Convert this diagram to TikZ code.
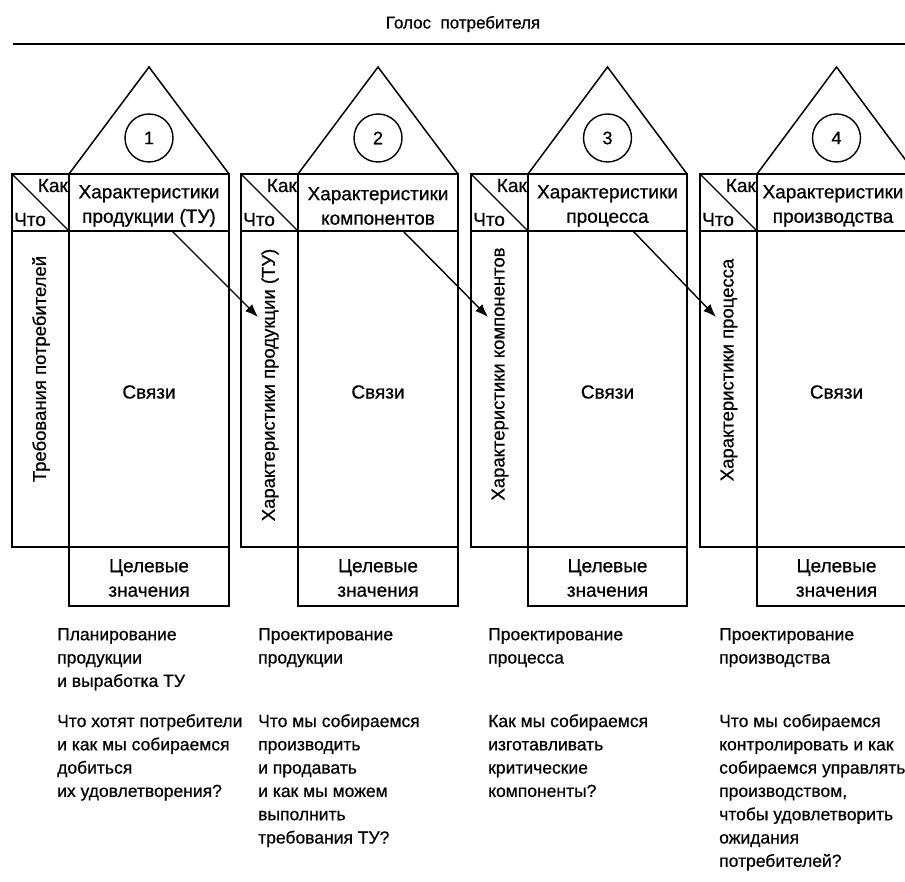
\documentclass[tikz,border=0pt]{standalone}
\usepackage{fontspec}
\setmainfont{Liberation Sans}[FakeBold=0.6]
\usetikzlibrary{arrows.meta,calc}
\begin{document}
\begin{tikzpicture}[x=1pt,y=-1pt,
  frame/.style={draw=black,line width=1.8pt},
  roof/.style={draw=black,line width=1.5pt,line join=miter},
  lbl/.style={font=\fontsize{19}{24.5}\selectfont,inner sep=0pt},
  sidelbl/.style={font=\fontsize{18.5}{24}\selectfont,inner sep=0pt,rotate=90},
  note/.style={font=\fontsize{17.5}{23.3}\selectfont,inner sep=0pt,align=left,anchor=north west},
  numcirc/.style={draw=black,circle,line width=1.4pt,minimum size=48pt,inner sep=0pt,font=\fontsize{18}{20}\selectfont},
  link/.style={draw=black,line width=1.4pt,-{Latex[length=13pt,width=10pt]}}]
\useasboundingbox (0,0) rectangle (905,882);
\clip (0,0) rectangle (905,882);

% heading and the line under it
\node[lbl,font=\fontsize{17}{20}\selectfont] (title) at (463,24) {Голос\ \ потребителя};
\draw[line width=1.8pt] (13,44) -- (905,44);

% the four houses: narrow "what" column, header, body, target row, roof
\foreach \i/\X/\W/\sy/\hx/\hd/\vt in {
  1/12/160/369/0/{Характеристики\\продукции (ТУ)}/{Требования потребителей},
  2/241/160/385/0/{Характеристики\\компонентов}/{Характеристики продукции (ТУ)},
  3/471/159/374/0/{Характеристики\\процесса}/{Характеристики компонентов},
  4/700/159/370/-3.5/{Характеристики\\производства}/{Характеристики процесса}}{
  % roof
  \draw[roof] (\X+57,174) -- (\X+57+\W/2,67) -- (\X+57+\W,174);
  % narrow column with the diagonal corner cell
  \draw[frame] (\X,174) rectangle (\X+57,547);
  \draw[frame] (\X,231) -- (\X+57,231);
  \draw[line width=1.3pt] (\X,174) -- (\X+57,231);
  % main column
  \draw[frame] (\X+57,174) rectangle (\X+57+\W,606);
  \draw[frame] (\X+57,231) -- (\X+57+\W,231);
  \draw[frame] (\X+57,547) -- (\X+57+\W,547);
  % texts
  \node[numcirc] (num\i) at (\X+57+\W/2,138) {\i};
  \node[lbl,anchor=base east] (how\i) at (\X+56,192) {Как};
  \node[lbl,anchor=base west] (what\i) at (\X+2,226) {Что};
  \node[lbl,align=center] (head\i) at (\X+57+\W/2+\hx,206) {\hd};
  \node[sidelbl] (side\i) at (\X+29,\sy) {\vt};
  \node[lbl] (rel\i) at (\X+57+\W/2,392) {Связи};
  \node[lbl,align=center] (goal\i) at (\X+57+\W/2,578) {Целевые\\значения};
}

% links from each header to the next house's "what" column
\coordinate (s1) at (172,231);  \coordinate (e1) at (258,317);
\coordinate (s2) at (403,231);  \coordinate (e2) at (488,317);
\coordinate (s3) at (633,231);  \coordinate (e3) at (716,317);
\draw[link] (s1) -- (e1);
\draw[link] (s2) -- (e2);
\draw[link] (s3) -- (e3);

% captions under the houses
\node[note] (stage1) at (57,628) {Планирование\\продукции\\и выработка ТУ};
\node[note] (stage2) at (258,628) {Проектирование\\продукции};
\node[note] (stage3) at (488,628) {Проектирование\\процесса};
\node[note] (stage4) at (719,628) {Проектирование\\производства};

\node[note] (ask1) at (57,714) {Что хотят потребители\\и как мы собираемся\\добиться\\их удовлетворения?};
\node[note] (ask2) at (258,714) {Что мы собираемся\\производить\\и продавать\\и как мы можем\\выполнить\\требования ТУ?};
\node[note] (ask3) at (488,714) {Как мы собираемся\\изготавливать\\критические\\компоненты?};
\node[note] (ask4) at (719,714) {Что мы собираемся\\контролировать и как\\собираемся управлять\\производством,\\чтобы удовлетворить\\ожидания\\потребителей?};
\end{tikzpicture}
\end{document}
